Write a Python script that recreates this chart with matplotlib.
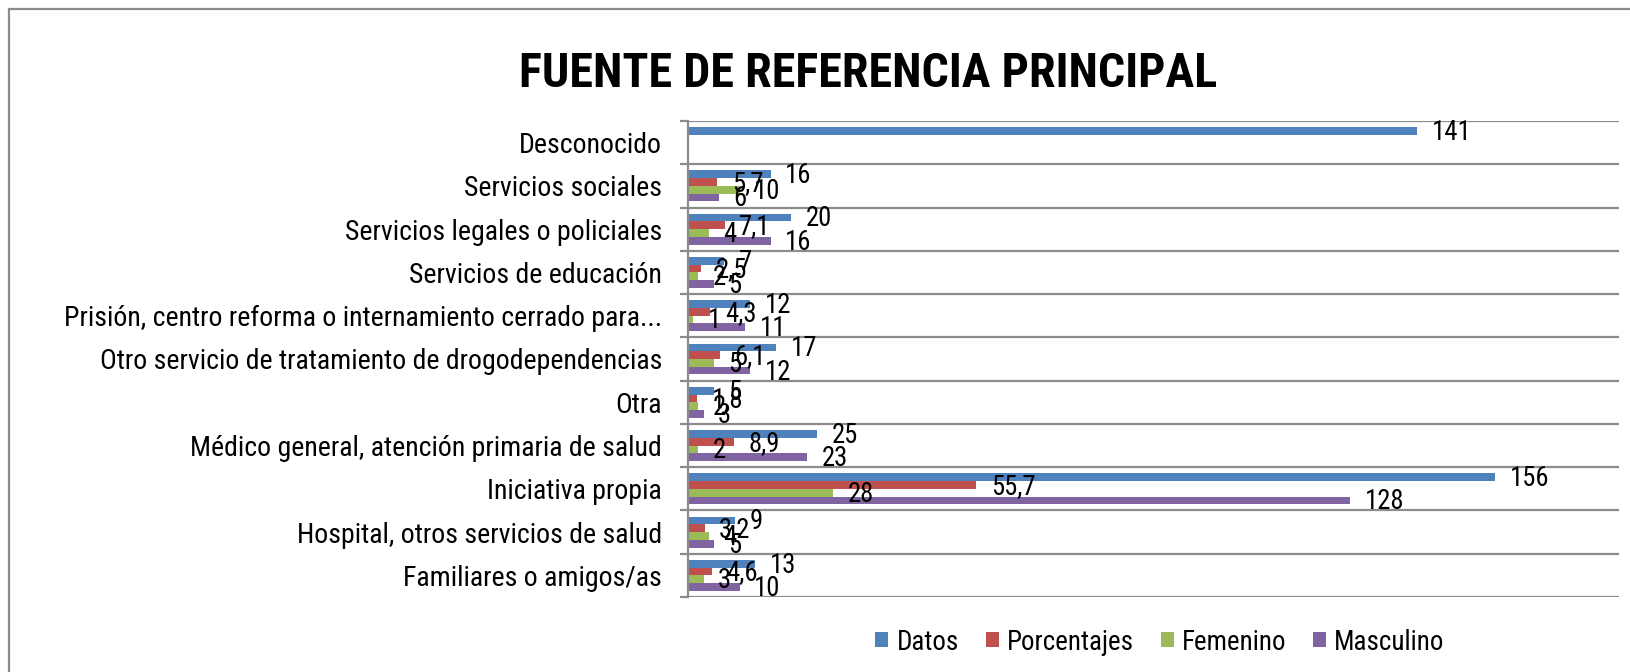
import numpy as np
import matplotlib
matplotlib.use("Agg")
import matplotlib.pyplot as plt
from matplotlib import font_manager as fm
from matplotlib.patches import Rectangle

# categories from bottom to top
categorias = [
  "Familiares o amigos/as",
  "Hospital, otros servicios de salud",
  "Iniciativa propia",
  "Médico general, atención primaria de salud",
  "Otra",
  "Otro servicio de tratamiento de drogodependencias",
  "Prisión, centro reforma o internamiento cerrado para...",
  "Servicios de educación",
  "Servicios legales o policiales",
  "Servicios sociales",
  "Desconocido",
]
datos = [13, 9, 156, 25, 5, 17, 12, 7, 20, 16, 141]
porcentajes = [4.6, 3.2, 55.7, 8.9, 1.8, 6.1, 4.3, 2.5, 7.1, 5.7, np.nan]
femenino = [3, 4, 28, 2, 2, 5, 1, 2, 4, 10, np.nan]
masculino = [10, 5, 128, 23, 3, 12, 11, 5, 16, 6, np.nan]

series = [("Datos", datos, "#4F81BD"),
          ("Porcentajes", porcentajes, "#C0504D"),
          ("Femenino", femenino, "#9BBB59"),
          ("Masculino", masculino, "#8064A2")]


# a narrow font looks closest, take the first one that exists
def pick_font():
  fonts = fm.fontManager.ttflist
  for fam in ["Roboto Condensed", "Open Sans Condensed", "Archivo Narrow", "Liberation Sans Narrow"]:
    hits = [f for f in fonts if f.name == fam]
    if hits:
      return fam, hits[0].stretch
  if any(f.name == "DejaVu Sans" and f.stretch == "condensed" for f in fonts):
    return "DejaVu Sans", "condensed"
  return "Liberation Sans", "normal"

fam, stretch = pick_font()
FONT = dict(family=[fam, "DejaVu Sans"], stretch=stretch)

fig = plt.figure(figsize=(16.3, 6.72), dpi=100)
renderer = fig.canvas.get_renderer()


def fit_size(txt, px, weight="normal"):
  # font size that makes txt px pixels wide
  t = fig.text(0, 0, txt, fontsize=10, fontweight=weight, **FONT)
  w = t.get_window_extent(renderer).width
  t.remove()
  return 10 * px / w

cat_fs = fit_size("Otro servicio de tratamiento de drogodependencias", 560)
num_fs = min(cat_fs, fit_size("141", 39))
tit_fs = fit_size("FUENTE DE REFERENCIA PRINCIPAL", 692, "bold")
leg_fs = fit_size("Porcentajes", 126)

ax = fig.add_axes([688/1630, 1 - 597/672, 931/1630, 476/672])

y = np.arange(len(categorias))
h = 0.179
for i, (name, vals, col) in enumerate(series):
  pos = y + (1.5 - i) * h
  vals = np.asarray(vals, dtype=float)
  ax.barh(pos, np.nan_to_num(vals), height=h, color=col, label=name, edgecolor='none')
  for p, v in zip(pos, vals):
    if np.isnan(v):
      continue
    txt = ("%g" % v).replace(".", ",")
    ax.annotate(txt, (v, p), xytext=(10.5, -1), textcoords="offset points",
                ha="left", va="center", fontsize=num_fs, color="black",
                fontfamily=FONT["family"], fontstretch=stretch)

ax.set_xlim(0, 180)
ax.set_ylim(-0.5, len(categorias) - 0.5)
ax.set_yticks(np.arange(len(categorias) + 1) - 0.5)
ax.set_yticklabels([])
ax.set_yticks(y, minor=True)
ax.set_yticklabels(categorias, minor=True, fontsize=cat_fs,
                   fontfamily=FONT["family"], fontstretch=stretch)
ax.tick_params(axis='y', which='minor', length=0, pad=26 * 72 / 100)
ax.tick_params(axis='y', which='major', length=6, width=1.6, color="#8c8c8c")
ax.set_xticks([])
ax.grid(axis='y', which='major', color="#8c8c8c", lw=1.6)
ax.set_axisbelow(True)
for s in ["top", "right", "bottom"]:
  ax.spines[s].set_visible(False)
ax.spines["left"].set_color("#8c8c8c")
ax.spines["left"].set_linewidth(1.6)

fig.text(868/1630, 1 - 74/672, "FUENTE DE REFERENCIA PRINCIPAL", ha="center", va="center",
         fontsize=tit_fs, fontweight="bold", **FONT)

leg_px = leg_fs * 100 / 72
ax.legend(loc="center", bbox_to_anchor=(1160/1630, 1 - 642/672), bbox_transform=fig.transFigure,
          ncol=4, frameon=False,
          prop=fm.FontProperties(family=FONT["family"], stretch=stretch, size=leg_fs),
          handlelength=13/leg_px, handleheight=13/leg_px,
          handletextpad=8/leg_px, columnspacing=27/leg_px, borderpad=0)

# outer chart frame, right and bottom edges fall outside the picture
fig.patches.append(Rectangle((9/1630, -0.1), 1.2, 1 - 9/672 + 0.1, transform=fig.transFigure,
                             fill=False, edgecolor="#8c8c8c", lw=1.6))

fig.savefig("out.png", dpi=100)
